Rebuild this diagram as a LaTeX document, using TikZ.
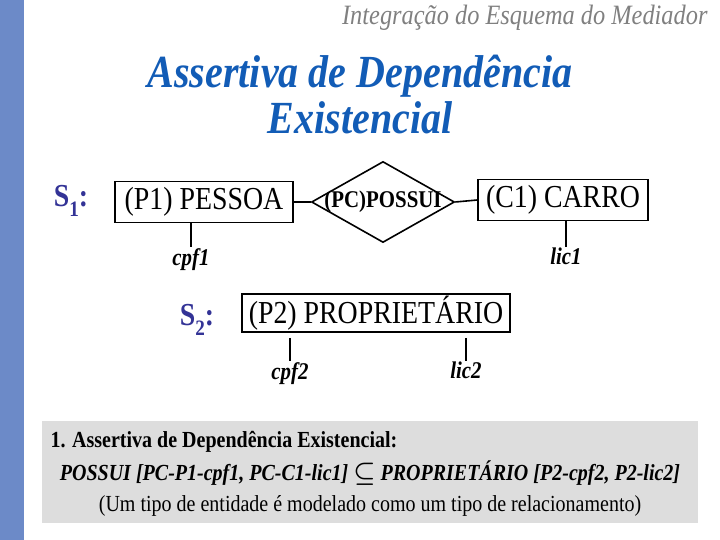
\documentclass[tikz,border=0pt]{standalone}
\usepackage{amsmath}
\usepackage{fontspec}
\setmainfont{Liberation Serif}[FakeStretch=0.87]
\usetikzlibrary{shapes.geometric}
\definecolor{stripblue}{RGB}{108,138,200}
\definecolor{titleblue}{RGB}{18,92,182}
\definecolor{hdrgray}{RGB}{128,128,128}
\definecolor{schemablue}{RGB}{51,51,150}
\definecolor{notegray}{RGB}{221,221,221}
\newcommand{\fsz}[1]{\fontsize{#1}{#1}\selectfont}
\tikzset{
  ent/.style={draw, line width=1.6pt, inner sep=0pt, minimum height=41pt, font=\fsz{32}},
  rel/.style={draw, diamond, line width=1.6pt, inner sep=0pt, aspect=1.77,
    minimum width=143pt, minimum height=81pt, font=\bfseries\fsz{24}},
  attr/.style={anchor=north, inner sep=1pt, font=\bfseries\itshape\fsz{24}},
  schema/.style={text=schemablue, font=\bfseries\fsz{32}},
  link/.style={line width=1.6pt}
}
\begin{document}
\begin{tikzpicture}[x=1pt, y=-1pt]
\useasboundingbox (0,0) rectangle (720,540);
\fill[stripblue] (0,0) rectangle (24,540);
\node[anchor=east, text=hdrgray, font=\itshape\fsz{28}] (hdr) at (711,18) {Integração do Esquema do Mediador};
\node[align=center, text=titleblue, font=\bfseries\itshape\fsz{46}] (title) at (360,95) {Assertiva de Dependência\\Existencial};
\node[schema] (s1) at (71,201) {S\raisebox{-0.3em}{\fsz{22}1}:};
\node[ent, minimum width=178pt] (p1) at (204,202) {(P1) PESSOA};
\node[rel] (pc) at (383,202) {\makebox[0pt]{(PC)POSSUI}};
\node[ent, minimum width=170pt] (c1) at (563,200) {(C1) CARRO};
\draw[link] (p1.east) -- (pc.west);
\draw[link] (pc.east) -- (c1.west);
\node[attr] (cpf1) at (191,247) {cpf1};
\node[attr] (lic1) at (566,247) {lic1};
\draw[link] (p1.south -| cpf1.north) -- (cpf1.north);
\draw[link] (c1.south -| lic1.north) -- (lic1.north);
\node[schema] (s2) at (197,320) {S\raisebox{-0.3em}{\fsz{22}2}:};
\node[ent, minimum width=268pt, minimum height=38pt] (p2) at (376,313) {(P2) PROPRIETÁRIO};
\node[attr] (cpf2) at (290,361) {cpf2};
\node[attr] (lic2) at (466,361) {lic2};
\draw[link] ([yshift=-5pt]p2.south -| cpf2.north) -- (cpf2.north);
\draw[link] ([yshift=-5pt]p2.south -| lic2.north) -- (lic2.north);
\fill[notegray] (42,421) rectangle (698,523);
\node[anchor=west, font=\bfseries\fsz{23}] (ln1) at (47,442) {1. Assertiva de Dependência Existencial:};
\node[font=\bfseries\itshape\fsz{23}] (ln2) at (370,473) {POSSUI [PC-P1-cpf1, PC-C1-lic1] $\boldsymbol{\subseteq}$ PROPRIETÁRIO [P2-cpf2, P2-lic2]};
\node[font=\fsz{23}] (ln3) at (370,506) {(Um tipo de entidade é modelado como um tipo de relacionamento)};
\end{tikzpicture}
\end{document}
